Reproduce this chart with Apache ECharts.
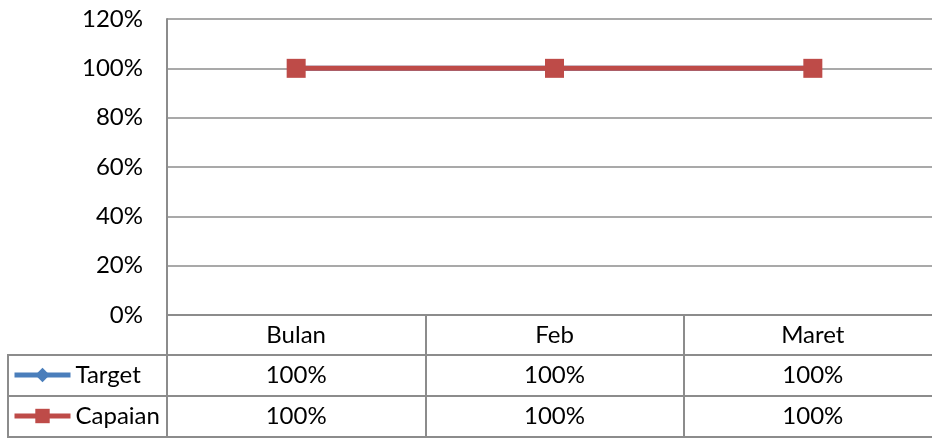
<!DOCTYPE html>
<html>
<head>
<meta charset="utf-8">
<script src="https://cdn.jsdelivr.net/npm/echarts@6/dist/echarts.min.js"></script>
<style>
  html, body { margin: 0; padding: 0; background: #fff; overflow: hidden; }
  #chart { width: 942px; height: 439px; }
</style>
</head>
<body>
<div id="chart"></div>
<script>
// data
const months = ['Bulan', 'Feb', 'Maret']
const target = [1, 1, 1]
const capaian = [1, 1, 1]
const yTicks = [0, 0.2, 0.4, 0.6, 0.8, 1, 1.2]

const pct = v => Math.round(v * 100) + '%'
const lineGray = '#8c8c8c'
const font = 'Lato'
const fontSize = 24

const chart = echarts.init(document.getElementById('chart'))

// one extra category axis per table row, so the table cells follow the x scale
const tableAxis = (offset, values, tickLen) => ({
  type: 'category',
  data: months,
  position: 'bottom',
  offset: offset,
  boundaryGap: true,
  axisLine: { show: true, lineStyle: { color: lineGray, width: 2 } },
  axisTick: { show: true, interval: 0, length: tickLen, lineStyle: { color: lineGray, width: 2 } },
  axisLabel: {
    show: !!values,
    interval: 0,
    margin: 8,
    color: '#000',
    fontFamily: font,
    fontSize: fontSize,
    formatter: (v, i) => values ? values(v, i) : ''
  }
})

chart.setOption({
  animation: false,
  grid: { left: 167, top: 19, right: 0, bottom: 124, containLabel: false },
  legend: {
    orient: 'vertical',
    left: 12,
    top: 363,
    padding: 0,
    itemGap: 17,
    itemWidth: 56,
    itemHeight: 18,
    lineStyle: { width: 5 },
    textStyle: { color: '#000', fontFamily: font, fontSize: fontSize },
    data: ['Target', 'Capaian']
  },
  xAxis: [
    tableAxis(0, v => v, 40),
    tableAxis(40, (v, i) => pct(target[i]), 41),
    tableAxis(81, (v, i) => pct(capaian[i]), 41),
    tableAxis(122, null, 0)
  ],
  yAxis: {
    type: 'value',
    min: yTicks[0],
    max: yTicks[yTicks.length - 1],
    interval: 0.2,
    axisLine: { show: true, lineStyle: { color: lineGray, width: 2 } },
    axisTick: { show: false },
    splitLine: { show: true, lineStyle: { color: lineGray, width: 1.5 } },
    axisLabel: {
      margin: 24,
      color: '#000',
      fontFamily: font,
      fontSize: fontSize,
      formatter: v => pct(v)
    }
  },
  // legend box on the left of the table
  graphic: [
    { type: 'rect', shape: { x: 8, y: 355, width: 159, height: 82 }, style: { fill: 'none', stroke: lineGray, lineWidth: 2 } },
    { type: 'line', shape: { x1: 8, y1: 396, x2: 167, y2: 396 }, style: { stroke: lineGray, lineWidth: 2 } }
  ],
  series: [
    {
      name: 'Target',
      type: 'line',
      xAxisIndex: 0,
      data: target,
      symbol: 'diamond',
      symbolSize: 16,
      lineStyle: { color: '#4A7EBB', width: 5 },
      itemStyle: { color: '#4A7EBB' }
    },
    {
      name: 'Capaian',
      type: 'line',
      xAxisIndex: 0,
      data: capaian,
      symbol: 'rect',
      symbolSize: 19,
      lineStyle: { color: '#BE4B48', width: 5 },
      itemStyle: { color: '#BE4B48' }
    }
  ]
})
</script>
</body>
</html>
